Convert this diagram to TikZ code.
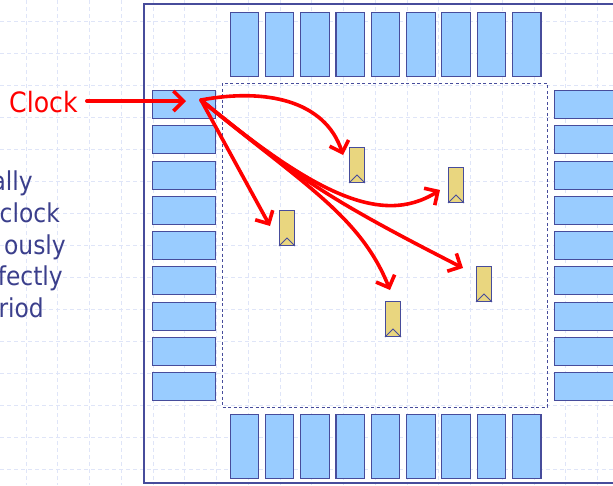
\documentclass[tikz,border=0pt]{standalone}
\usepackage{fontspec}
\setmainfont{DejaVu Sans Condensed}
\usetikzlibrary{arrows.meta}
\definecolor{navy}{HTML}{474C9B}
\definecolor{padfill}{HTML}{99CCFF}
\definecolor{fffill}{HTML}{E9D67F}
\definecolor{gridc}{HTML}{DFE5F8}
\definecolor{txtnavy}{HTML}{3B3F8C}
\tikzset{
  pad/.style={draw=navy, line width=1.1pt, fill=padfill, inner sep=0pt, anchor=north west},
  hpad/.style={pad, minimum width=63pt, minimum height=28pt},
  vpad/.style={pad, minimum width=28.5pt, minimum height=64pt},
  flop/.style={draw=navy, line width=1pt, fill=fffill, inner sep=0pt, anchor=north west,
               minimum width=15pt, minimum height=35pt},
  clk/.style={draw=red, line width=3.6pt, line cap=round,
              -{Straight Barb[length=10pt,width=20pt,line width=3.6pt]}},
  side/.style={text=txtnavy, font=\fontsize{26}{30}\selectfont, anchor=base east, inner sep=0pt},
}
\begin{document}
\begin{tikzpicture}[x=1pt,y=-1pt]
\useasboundingbox (0,0) rectangle (613,485);
\fill[white] (0,0) rectangle (613,485);

% background grid
\foreach \k in {0,...,19}
  \draw[gridc, line width=1pt, dash pattern=on 4pt off 3pt] ({26+31.75*\k},0) -- ({26+31.75*\k},485);
\foreach \k in {0,...,14}
  \draw[gridc, line width=1pt, dash pattern=on 4pt off 3pt] (0,{21+32*\k}) -- (613,{21+32*\k});

% side text
\node[side] (t1) at (33,190) {ally};
\node[side] (t2) at (60,222) {clock};
\node[side] (t3) at (66,254) {ously};
\node[side] (t4) at (63,285) {fectly};
\node[side] (t5) at (44,317) {riod};

% chip outline and core area
\draw[navy, line width=2.5pt] (630,4) -- (144,4) -- (144,483) -- (630,483);
\draw[navy, line width=1pt, dash pattern=on 3pt off 2.5pt] (222,83) rectangle (547,407);

% I/O pads
\foreach \i in {0,...,8} {
  \node[hpad] (lp\i) at (152,{90+35.25*\i}) {};
  \node[hpad, minimum width=70pt] (rp\i) at (554,{90+35.25*\i}) {};
  \node[vpad] (tp\i) at ({229.5+35.3*\i},12) {};
  \node[vpad] (bp\i) at ({229.5+35.3*\i},414) {};
}

% flip-flops with clock input marks
\foreach \n/\x/\y in {ff1/349/147, ff2/448/167, ff3/279/210, ff4/476/266, ff5/385/301} {
  \node[flop] (\n) at (\x,\y) {};
  \draw[navy, line width=1pt] (\n.south west) -- ([yshift=8pt]\n.south) -- (\n.south east);
}

% clock input
\node[text=red, font=\fontsize{28}{32}\selectfont, anchor=base west, inner sep=0pt] (clock) at (9,112) {Clock};
\coordinate (padin) at (186,101);
\coordinate (src) at (201,100);
\draw[clk] ([xshift=9pt]clock.east |- padin) -- (padin);

% clock distribution
\coordinate (c1) at (343,155);
\coordinate (c2) at (270,226);
\coordinate (c3) at (440,190);
\coordinate (c4) at (463,268);
\coordinate (c5) at (390,290);
\draw[clk] (src) .. controls (265,88) and (325,100) .. (c1);
\draw[clk] (src) -- (c2);
\draw[clk] (src) .. controls (310,190) and (380,228) .. (c3);
\draw[clk] (src) .. controls (300,180) and (330,200) .. (c4);
\draw[clk] (src) .. controls (300,182) and (360,215) .. (c5);
\end{tikzpicture}
\end{document}
